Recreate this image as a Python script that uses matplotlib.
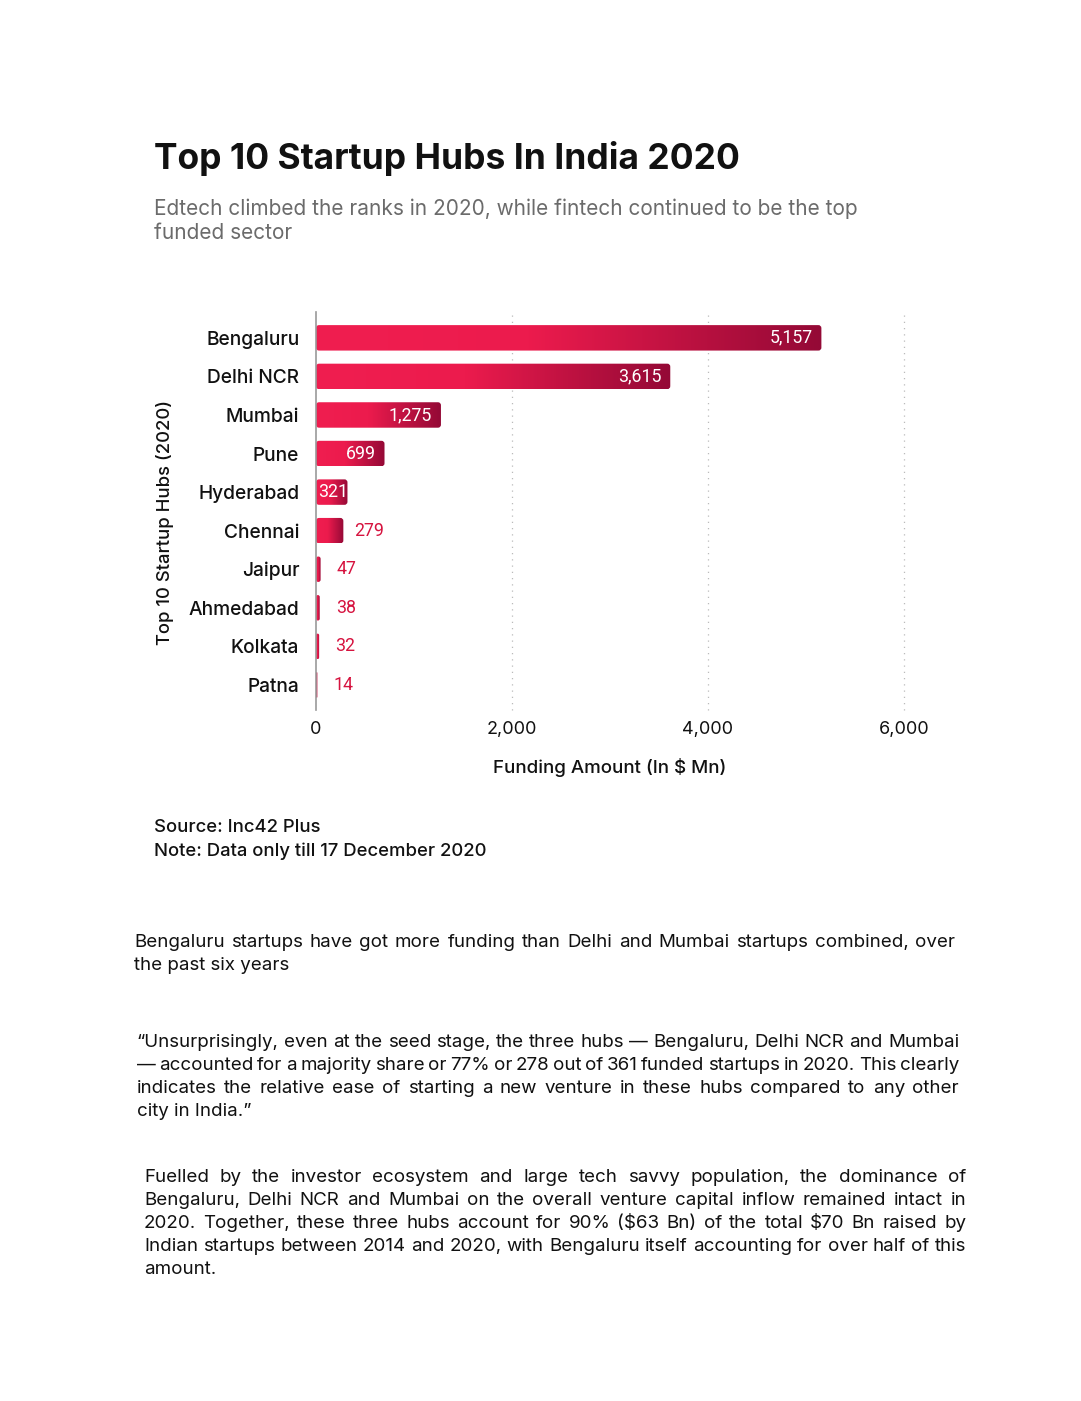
import matplotlib
matplotlib.use("Agg")
import matplotlib.pyplot as plt
import numpy as np
from matplotlib.colors import LinearSegmentedColormap
from matplotlib.patches import FancyBboxPatch

# ---------------- data ----------------
cities = ["Bengaluru", "Delhi NCR", "Mumbai", "Pune", "Hyderabad",
          "Chennai", "Jaipur", "Ahmedabad", "Kolkata", "Patna"]
funding = [5157, 3615, 1275, 699, 321, 279, 47, 38, 32, 14]
xticks = [0, 2000, 4000, 6000]
xtick_labels = ["0", "2,000", "4,000", "6,000"]

title = "Top 10 Startup Hubs In India 2020"
subtitle = ["Edtech climbed the ranks in 2020, while fintech continued to be the top",
            "funded sector"]
source_lines = ["Source: Inc42 Plus", "Note: Data only till 17 December 2020"]
para1 = ["Bengaluru startups have got more funding than Delhi and Mumbai startups combined, over",
         "the past six years"]
para2 = ["\u201cUnsurprisingly, even at the seed stage, the three hubs \u2014 Bengaluru, Delhi NCR and Mumbai",
         "\u2014 accounted for a majority share or 77% or 278 out of 361 funded startups in 2020. This clearly",
         "indicates the relative ease of starting a new venture in these hubs compared to any other",
         "city in India.\u201d"]
para3 = ["Fuelled by the investor ecosystem and large tech savvy population, the dominance of",
         "Bengaluru, Delhi NCR and Mumbai on the overall venture capital inflow remained intact in",
         "2020. Together, these three hubs account for 90% ($63 Bn) of the total $70 Bn raised by",
         "Indian startups between 2014 and 2020, with Bengaluru itself accounting for over half of this",
         "amount."]

FONT = "Inter"
NUMFONT = "Roboto"
W, H = 1081, 1401

fig = plt.figure(figsize=(W / 100, H / 100), dpi=100)
fig.patch.set_facecolor("white")

def fx(x):
    return x / W

def fy(y):
    return 1 - y / H

ax = fig.add_axes([fx(316), fy(710), (904 - 316) / W, (710 - 312) / H])

cmap = LinearSegmentedColormap.from_list(
    "bar", [(0.0, "#F01E50"), (0.42, "#EC1B4D"), (1.0, "#940936")])
grad = np.linspace(0, 1, 256).reshape(1, -1)

bar_h = 0.66
px_x = 6000 / (904 - 316)       # data units per pixel (x)
px_y = (9.65 + 0.67) / (710 - 312)  # data units per pixel (y)

for i, v in enumerate(funding):
    r = min(3 * px_x, v / 2)
    patch = FancyBboxPatch((0, i - bar_h / 2), v, bar_h,
                           boxstyle=f"round,pad=0,rounding_size={r}",
                           mutation_aspect=px_y / px_x,
                           linewidth=0, facecolor="none")
    ax.add_patch(patch)
    im = ax.imshow(grad, extent=[0, v, i + bar_h / 2, i - bar_h / 2],
                   aspect="auto", cmap=cmap, zorder=2, interpolation="bilinear")
    im.set_clip_path(patch)

    label = f"{v:,}"
    if v >= 600:
        ax.annotate(label, (v, i), xytext=(-6.5, 0), textcoords="offset points",
                    ha="right", va="center", color="white", fontsize=12.8,
                    family=NUMFONT, zorder=3)
    elif v >= 300:
        ax.annotate(label, (0, i), xytext=(1.3, 0), textcoords="offset points",
                    ha="left", va="center", color="white", fontsize=12.8,
                    family=NUMFONT, zorder=3)
    else:
        off = 7.5 if v > 100 else 11.5
        ax.annotate(label, (v, i), xytext=(off, 0), textcoords="offset points",
                    ha="left", va="center", color="#D6133F", fontsize=12.8,
                    family=NUMFONT, zorder=3)

ax.set_xlim(0, 6000)
ax.set_ylim(9.65, -0.67)
ax.set_yticks(range(len(cities)))
ax.set_yticklabels(cities, fontsize=13.8, family=FONT, fontweight="medium", color="#111111")
ax.set_xticks(xticks)
ax.set_xticklabels(xtick_labels, fontsize=13, family=FONT, color="#111111")
ax.tick_params(axis="both", length=0)
ax.tick_params(axis="y", pad=12)
ax.tick_params(axis="x", pad=8)
for s in ["top", "right", "bottom"]:
    ax.spines[s].set_visible(False)
ax.spines["left"].set_color("#999999")
ax.spines["left"].set_linewidth(1.2)
ax.spines["left"].set_zorder(4)
for xv in xticks[1:]:
    ax.axvline(xv, color="#BBBBBB", linestyle=(0, (1, 4)), linewidth=0.9,
               zorder=1, clip_on=False)

ax.set_xlabel("Funding Amount (In $ Mn)", fontsize=13.5, family=FONT,
              fontweight="medium", color="#111111", labelpad=14)
fig.text(fx(165), fy(522), "Top 10 Startup Hubs (2020)", rotation=90,
         ha="center", va="center", fontsize=13.3, family=FONT,
         fontweight="medium", color="#111111")

# ---------------- titles ----------------
fig.text(fx(154), fy(158), title, fontsize=25.5, fontweight="bold", family=FONT,
         color="#111111", va="center", ha="left")
for k, line in enumerate(subtitle):
    fig.text(fx(154), fy(209 + 24 * k), line, fontsize=15, family=FONT,
             color="#6B6B6B", va="center", ha="left")

for k, line in enumerate(source_lines):
    fig.text(fx(154), fy(828 + 23 * k), line, fontsize=13.3, family=FONT,
             fontweight="medium", color="#111111", va="center", ha="left")

renderer = fig.canvas.get_renderer()

def paragraph(lines, x0, x1, y0, dy, size, justify_upto):
    for k, line in enumerate(lines):
        y = fy(y0 + 5 + dy * k)
        if k >= justify_upto:
            fig.text(fx(x0), y, line, fontsize=size, family=FONT,
                     color="#111111", va="baseline", ha="left")
            continue
        words = line.split(" ")
        texts = [fig.text(0, y, w, fontsize=size, family=FONT, color="#111111",
                          va="baseline", ha="left") for w in words]
        widths = [t.get_window_extent(renderer).width for t in texts]
        gap = (x1 - x0 - sum(widths)) / (len(words) - 1)
        x = x0
        for t, wd in zip(texts, widths):
            t.set_x(fx(x))
            x += wd + gap

paragraph(para1, 134, 955, 942, 23, 13.5, 1)
paragraph(para2, 137, 959, 1042, 23, 13.5, 3)
paragraph(para3, 144, 966, 1177, 23, 13.5, 4)

fig.savefig("out.png", dpi=100, facecolor="white")
